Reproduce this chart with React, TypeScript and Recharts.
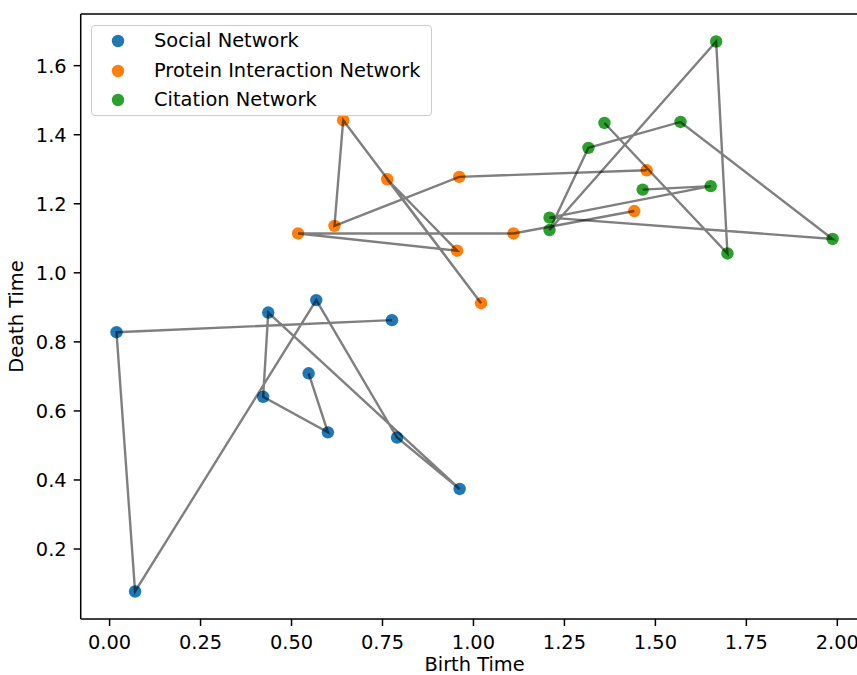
import React from 'react';
import { ScatterChart, Scatter, XAxis, YAxis, ReferenceLine, Legend } from 'recharts';

// Points listed in the order they are joined by the grey path
const socialBirth = [0.776, 0.019, 0.070, 0.568, 0.790, 0.962, 0.436, 0.422, 0.600, 0.547];
const socialDeath = [0.863, 0.828, 0.077, 0.921, 0.523, 0.374, 0.885, 0.641, 0.538, 0.709];

const proteinBirth = [1.476, 0.961, 0.618, 0.642, 1.021, 0.763, 0.955, 0.518, 1.110, 1.442];
const proteinDeath = [1.297, 1.278, 1.136, 1.442, 0.912, 1.271, 1.064, 1.114, 1.114, 1.179];

const citationBirth = [1.465, 1.652, 1.209, 1.987, 1.569, 1.316, 1.209, 1.667, 1.698, 1.360];
const citationDeath = [1.241, 1.251, 1.160, 1.098, 1.437, 1.362, 1.124, 1.670, 1.056, 1.434];

const seriesNames = ['Social Network', 'Protein Interaction Network', 'Citation Network'];
const seriesColors = ['#1f77b4', '#ff7f0e', '#2ca02c'];

const xTicks = [0, 0.25, 0.5, 0.75, 1.0, 1.25, 1.5, 1.75, 2.0];
const yTicks = [0.2, 0.4, 0.6, 0.8, 1.0, 1.2, 1.4, 1.6];

const toPoints = (xs: number[], ys: number[]) => xs.map((x, i) => ({ x, y: ys[i] }));
const seriesData = [
  toPoints(socialBirth, socialDeath),
  toPoints(proteinBirth, proteinDeath),
  toPoints(citationBirth, citationDeath),
];

const allX = [...socialBirth, ...proteinBirth, ...citationBirth];
const allY = [...socialDeath, ...proteinDeath, ...citationDeath];
const pad = (lo: number, hi: number): [number, number] => {
  const m = (hi - lo) * 0.05;
  return [lo - m, hi + m];
};
const xDomain = pad(Math.min(...allX), Math.max(...allX));
const yDomain = pad(Math.min(...allY), Math.max(...allY));

const FONT = 'DejaVu Sans';
const FS = 19.4;

const XLabel = (props: any) => {
  const vb = props.viewBox || {};
  return (
    <text x={vb.x + vb.width / 2} y={vb.y + 52} textAnchor="middle" fontFamily={FONT} fontSize={FS} fill="#000">
      Birth Time
    </text>
  );
};

const YLabel = (props: any) => {
  const vb = props.viewBox || {};
  const cx = vb.x + 23;
  const cy = vb.y + vb.height / 2;
  return (
    <text x={cx} y={cy} transform={`rotate(-90 ${cx} ${cy})`} textAnchor="middle" fontFamily={FONT} fontSize={FS} fill="#000">
      Death Time
    </text>
  );
};

const LegendBox = () => (
  <div
    style={{
      width: 341,
      height: 91,
      boxSizing: 'border-box',
      border: '1.4px solid #cccccc',
      borderRadius: 4,
      background: 'rgba(255,255,255,0.8)',
      position: 'relative',
      fontFamily: FONT,
      fontSize: FS,
      color: '#000',
    }}
  >
    {seriesNames.map((name, i) => (
      <div key={name} style={{ position: 'absolute', left: 0, top: 15 + i * 29.5, height: 0 }}>
        <svg width={14} height={14} style={{ position: 'absolute', left: 19.3, top: -7 }}>
          <circle cx={7} cy={7} r={6.2} fill={seriesColors[i]} />
        </svg>
        <span style={{ position: 'absolute', left: 62, top: -12, whiteSpace: 'nowrap', lineHeight: '24px' }}>{name}</span>
      </div>
    ))}
  </div>
);

const makeDot = (color: string) => (props: any) => (
  <circle cx={props.cx} cy={props.cy} r={6.2} fill={color} />
);
const noDot = () => <g />;

export default function App() {
  return (
    <div style={{ position: 'fixed', left: 0, top: 0, width: 857, height: 675, overflow: 'hidden', background: '#fff' }}>
      <ScatterChart width={880} height={675} margin={{ top: 14, right: 11.6, bottom: 0, left: 0 }}>
        <XAxis
          type="number"
          dataKey="x"
          domain={xDomain}
          allowDataOverflow
          ticks={xTicks}
          interval={0}
          tickFormatter={(v: number) => v.toFixed(2)}
          height={56}
          tickSize={7}
          tickMargin={9}
          axisLine={{ stroke: '#000', strokeWidth: 1.5 }}
          tickLine={{ stroke: '#000', strokeWidth: 1.5 }}
          tick={{ fill: '#000', fontSize: FS, fontFamily: FONT }}
          label={XLabel}
        />
        <YAxis
          type="number"
          dataKey="y"
          domain={yDomain}
          allowDataOverflow
          ticks={yTicks}
          interval={0}
          tickFormatter={(v: number) => v.toFixed(1)}
          width={80.7}
          tickSize={7}
          tickMargin={7}
          axisLine={{ stroke: '#000', strokeWidth: 1.5 }}
          tickLine={{ stroke: '#000', strokeWidth: 1.5 }}
          tick={{ fill: '#000', fontSize: FS, fontFamily: FONT }}
          label={YLabel}
        />
        <ReferenceLine y={yDomain[1]} stroke="#000" strokeWidth={1.5} ifOverflow="extendDomain" />
        <ReferenceLine x={xDomain[1]} stroke="#000" strokeWidth={1.5} ifOverflow="extendDomain" />
        {seriesData.map((d, i) => (
          <Scatter
            key={'pts' + i}
            name={seriesNames[i]}
            data={d}
            fill={seriesColors[i]}
            shape={makeDot(seriesColors[i])}
            isAnimationActive={false}
          />
        ))}
        {seriesData.map((d, i) => (
          <Scatter
            key={'line' + i}
            data={d}
            legendType="none"
            line={{ stroke: '#000', strokeOpacity: 0.5, strokeWidth: 2.4 }}
            lineType="joint"
            shape={noDot}
            isAnimationActive={false}
          />
        ))}
        <Legend
          layout="horizontal"
          verticalAlign="middle"
          align="center"
          wrapperStyle={{ position: 'absolute', left: 91, top: 25, width: 341, height: 91 }}
          content={() => <LegendBox />}
        />
      </ScatterChart>
    </div>
  );
}
